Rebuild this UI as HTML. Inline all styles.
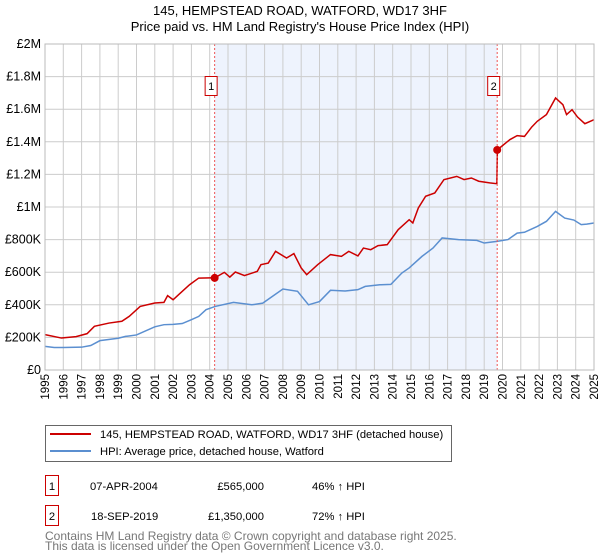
<!DOCTYPE html>
<html><head><meta charset="utf-8"><style>
body{margin:0;background:#fff;font-family:"Liberation Sans","DejaVu Sans",sans-serif;}
svg{display:block}
</style></head><body>
<svg width="600" height="560" id="c" xmlns="http://www.w3.org/2000/svg">
<text x="300" y="15" text-anchor="middle" font-size="13" fill="#000">145, HEMPSTEAD ROAD, WATFORD, WD17 3HF</text>
<text x="300" y="31" text-anchor="middle" font-size="13" fill="#000">Price paid vs. HM Land Registry's House Price Index (HPI)</text>
<g id="plot"></g>
<g>
<rect x="45.5" y="425.5" width="406" height="36" fill="#fff" stroke="#666"/>
<line x1="50" y1="434" x2="91" y2="434" stroke="#cc0000" stroke-width="2"/>
<text x="100" y="438" font-size="11.2">145, HEMPSTEAD ROAD, WATFORD, WD17 3HF (detached house)</text>
<line x1="50" y1="451" x2="91" y2="451" stroke="#5b8fd0" stroke-width="2"/>
<text x="100" y="455" font-size="11.2">HPI: Average price, detached house, Watford</text>
</g>
<g font-size="11.2">
<rect x="45.5" y="475.5" width="13" height="20" fill="#fff" stroke="#cc0000"/>
<text x="52" y="490" text-anchor="middle">1</text>
<text x="90" y="490">07-APR-2004</text>
<text x="264" y="490" text-anchor="end">£565,000</text>
<text x="312" y="490">46% ↑ HPI</text>
<rect x="45.5" y="505.5" width="13" height="20" fill="#fff" stroke="#cc0000"/>
<text x="52" y="520" text-anchor="middle">2</text>
<text x="91" y="520">18-SEP-2019</text>
<text x="264" y="520" text-anchor="end">£1,350,000</text>
<text x="312" y="520">72% ↑ HPI</text>
</g>
<text x="45" y="540" font-size="12" fill="#777">Contains HM Land Registry data © Crown copyright and database right 2025.</text>
<text x="45" y="550" font-size="12" fill="#777">This data is licensed under the Open Government Licence v3.0.</text>
</svg>
<script>
const yTicks=[0,200,400,600,800,1000,1200,1400,1600,1800,2000];
const yTickLabels=["£0","£200K","£400K","£600K","£800K","£1M","£1.2M","£1.4M","£1.6M","£1.8M","£2M"];
const years=[1995,1996,1997,1998,1999,2000,2001,2002,2003,2004,2005,2006,2007,2008,2009,2010,2011,2012,2013,2014,2015,2016,2017,2018,2019,2020,2021,2022,2023,2024,2025];
const hpiX=[1995,1995.5,1996,1997,1997.5,1998,1999,1999.4,2000,2001,2001.5,2002,2002.5,2003,2003.4,2003.8,2004.3,2005.3,2006.3,2006.9,2007.3,2008,2008.8,2009.4,2010,2010.6,2011.4,2012.1,2012.5,2013.3,2013.9,2014.5,2014.9,2015.6,2016.2,2016.7,2017.6,2018.6,2019,2019.7,2020.3,2020.8,2021.2,2021.9,2022.4,2022.9,2023.4,2023.9,2024.3,2024.6,2025];
const hpiY=[145,138,138,140,150,180,195,206,215,265,278,280,285,309,329,370,390,415,400,410,442,497,483,400,420,489,485,493,513,523,525,595,626,697,748,810,800,795,779,789,800,840,845,881,912,973,932,920,892,895,902];
const ppX=[1995,1995.9,1996.7,1997.3,1997.7,1998.5,1999.2,1999.6,2000.2,2001,2001.5,2001.7,2002,2002.3,2002.9,2003.4,2004,2004.27,2004.8,2005.1,2005.4,2005.9,2006.6,2006.8,2007.2,2007.6,2008.2,2008.6,2009,2009.3,2009.9,2010.6,2011.2,2011.6,2012.1,2012.4,2012.8,2013.2,2013.7,2014.3,2014.9,2015.1,2015.4,2015.8,2016.3,2016.8,2017.5,2017.9,2018.3,2018.7,2019.3,2019.69,2019.72,2019.95,2020.4,2020.8,2021.2,2021.6,2021.9,2022.4,2022.9,2023.3,2023.5,2023.8,2024.1,2024.5,2025];
const ppY=[217,196,205,223,268,288,299,329,390,411,415,456,431,462,523,564,565,565,599,570,601,579,605,646,656,728,687,714,626,585,646,708,697,728,700,748,738,763,769,861,922,902,994,1066,1086,1168,1188,1168,1178,1158,1148,1143,1352,1372,1413,1438,1433,1491,1526,1567,1669,1628,1567,1597,1552,1511,1536];
const sales=[{t:2004.27,v:565,n:"1"},{t:2019.71,v:1350,n:"2"}];
const X0=45,X1=594,Y0=370,Y1=44;
const xs=t=>X0+(t-1995)/30*(X1-X0);
const ys=v=>Y0-v/2000*(Y0-Y1);
const NS="http://www.w3.org/2000/svg";
const g=document.getElementById('plot');
function mk(tag,attrs){const e=document.createElementNS(NS,tag);for(const k in attrs)e.setAttribute(k,attrs[k]);g.appendChild(e);return e;}
let e=mk('rect',{x:xs(sales[0].t),y:Y1,width:xs(sales[1].t)-xs(sales[0].t),height:Y0-Y1,fill:'#eef3fd'});


years.forEach(y=>{const l=mk('line',{x1:xs(y),x2:xs(y),y1:Y1,y2:Y0,stroke:'#cccccc','stroke-width':1});


const t=mk('text',{x:0,y:0,'font-size':11.5,'text-anchor':'end',transform:`translate(${xs(y)+4},${Y0+4}) rotate(-90)`});t.textContent=y;

});
yTicks.forEach((v,i)=>{const l=mk('line',{x1:X0,x2:X1,y1:ys(v),y2:ys(v),stroke:'#cccccc','stroke-width':1});


const t=mk('text',{x:X0-4,y:ys(v)+4,'font-size':12.5,'text-anchor':'end'});t.textContent=yTickLabels[i];

});
e=mk('polyline',{points:hpiX.map((t,i)=>xs(t)+','+ys(hpiY[i])).join(' '),fill:'none',stroke:'#5b8fd0','stroke-width':1.5});


e=mk('polyline',{points:ppX.map((t,i)=>xs(t)+','+ys(ppY[i])).join(' '),fill:'none',stroke:'#cc0000','stroke-width':1.5});


sales.forEach(s=>{const l=mk('line',{x1:xs(s.t),x2:xs(s.t),y1:Y1,y2:Y0,stroke:'#ee5555','stroke-dasharray':'2,2','stroke-width':1});


const c=mk('circle',{cx:xs(s.t),cy:ys(s.v),r:4,fill:'#cc0000'});


const r=mk('rect',{x:xs(s.t)-9.5,y:76.5,width:12,height:19,fill:'#fff',stroke:'#cc0000'});


const t=mk('text',{x:xs(s.t)-3.5,y:90,'font-size':11,'text-anchor':'middle'});t.textContent=s.n;

});
e=mk('rect',{x:X0,y:Y1,width:X1-X0,height:Y0-Y1,fill:'none',stroke:'#bbbbbb'});


</script>
</body></html>
